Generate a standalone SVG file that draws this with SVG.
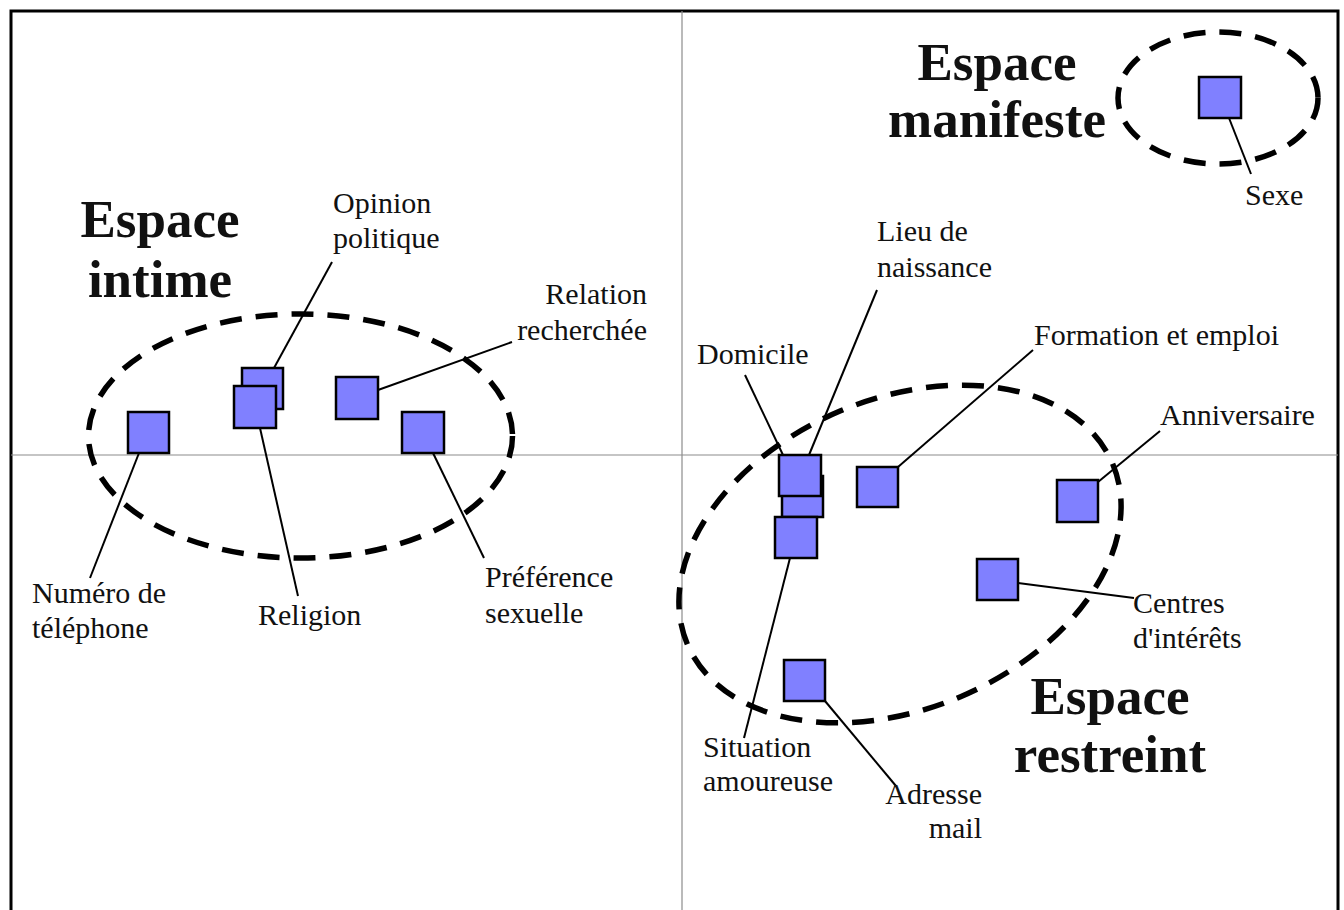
<svg xmlns="http://www.w3.org/2000/svg" width="1344" height="910" viewBox="0 0 1344 910">
<style>
.sq{fill:#8080ff;stroke:#000;stroke-width:2.5}
.zone{fill:none;stroke:#000;stroke-width:5.5;stroke-dasharray:22 14}
.axis{stroke:#8c8c8c;stroke-width:1.2}
.ln{stroke:#000;stroke-width:2;fill:none}
.lbl{font-family:"Liberation Serif","Times New Roman",serif;font-size:30px;fill:#111}
.ttl{font-family:"Liberation Serif","Times New Roman",serif;font-size:53px;font-weight:bold;fill:#111;text-anchor:middle}
.r{text-anchor:end}
</style>
<rect width="1344" height="910" fill="#fff"/>
<g id="frame">
<path d="M11,912 V11 H1338 V912" fill="none" stroke="#000" stroke-width="3"/>
<line class="axis" x1="682" y1="11" x2="682" y2="910"/>
<line class="axis" x1="11" y1="455" x2="1338" y2="455"/>
</g>
<g id="zones">
<ellipse id="zone-intime" class="zone" cx="300.5" cy="436" rx="212" ry="122"/>
<ellipse id="zone-restreint" class="zone" cx="900" cy="554" rx="231" ry="155" transform="rotate(-23 900 554)"/>
<ellipse id="zone-manifeste" class="zone" cx="1218" cy="98" rx="100" ry="66"/>
</g>
<g id="connectors">
<line class="ln" x1="139" y1="453" x2="90" y2="578"/>
<line class="ln" x1="274" y1="368" x2="332" y2="262"/>
<line class="ln" x1="260" y1="428" x2="298" y2="596"/>
<line class="ln" x1="378" y1="390" x2="512" y2="342"/>
<line class="ln" x1="433" y1="453" x2="484" y2="558"/>
<line class="ln" x1="1229" y1="118" x2="1251" y2="174"/>
<line class="ln" x1="783" y1="455" x2="745" y2="375"/>
<line class="ln" x1="809" y1="455" x2="877" y2="290"/>
<line class="ln" x1="898" y1="467" x2="1033" y2="350"/>
<line class="ln" x1="1098" y1="482" x2="1160" y2="431"/>
<line class="ln" x1="1018" y1="583" x2="1134" y2="598"/>
<line class="ln" x1="790" y1="558" x2="744" y2="738"/>
<line class="ln" x1="825" y1="701" x2="896" y2="786"/>
</g>
<g id="node-numero"><rect class="sq" x="128" y="412" width="41" height="41"/><text class="lbl" x="32" y="603">Numéro de</text><text class="lbl" x="32" y="638">téléphone</text></g>
<g id="node-opinion"><rect class="sq" x="242" y="368" width="41" height="41"/><text class="lbl" x="333" y="213">Opinion</text><text class="lbl" x="333" y="248">politique</text></g>
<g id="node-religion"><rect class="sq" x="234" y="386" width="42" height="42"/><text class="lbl" x="258" y="625">Religion</text></g>
<g id="node-relation"><rect class="sq" x="336" y="377" width="42" height="42"/><text class="lbl r" x="647" y="304">Relation</text><text class="lbl r" x="647" y="340">recherchée</text></g>
<g id="node-preference"><rect class="sq" x="402" y="412" width="42" height="41"/><text class="lbl" x="485" y="587">Préférence</text><text class="lbl" x="485" y="623">sexuelle</text></g>
<g id="node-sexe"><rect class="sq" x="1199" y="77" width="42" height="41"/><text class="lbl" x="1245" y="205">Sexe</text></g>
<g id="node-lieu"><rect class="sq" x="782" y="476" width="41" height="41"/><text class="lbl" x="877" y="241">Lieu de</text><text class="lbl" x="877" y="277">naissance</text></g>
<g id="node-situation"><rect class="sq" x="775" y="517" width="42" height="41"/><text class="lbl" x="703" y="757">Situation</text><text class="lbl" x="703" y="791">amoureuse</text></g>
<g id="node-domicile"><rect class="sq" x="779" y="455" width="42" height="41"/><text class="lbl" x="697" y="364">Domicile</text></g>
<g id="node-formation"><rect class="sq" x="857" y="467" width="41" height="40"/><text class="lbl" x="1034" y="345">Formation et emploi</text></g>
<g id="node-anniversaire"><rect class="sq" x="1057" y="480" width="41" height="42"/><text class="lbl" x="1160" y="425">Anniversaire</text></g>
<g id="node-centres"><rect class="sq" x="977" y="559" width="41" height="41"/><text class="lbl" x="1133" y="613">Centres</text><text class="lbl" x="1133" y="648">d'intérêts</text></g>
<g id="node-adresse"><rect class="sq" x="784" y="660" width="41" height="41"/><text class="lbl r" x="982" y="804">Adresse</text><text class="lbl r" x="982" y="838">mail</text></g>
<g id="titles">
<text class="ttl" x="160" y="237">Espace</text><text class="ttl" x="160" y="297">intime</text>
<text class="ttl" x="997" y="80">Espace</text><text class="ttl" x="997" y="137">manifeste</text>
<text class="ttl" x="1110" y="714">Espace</text><text class="ttl" x="1110" y="772">restreint</text>
</g>
</svg>
